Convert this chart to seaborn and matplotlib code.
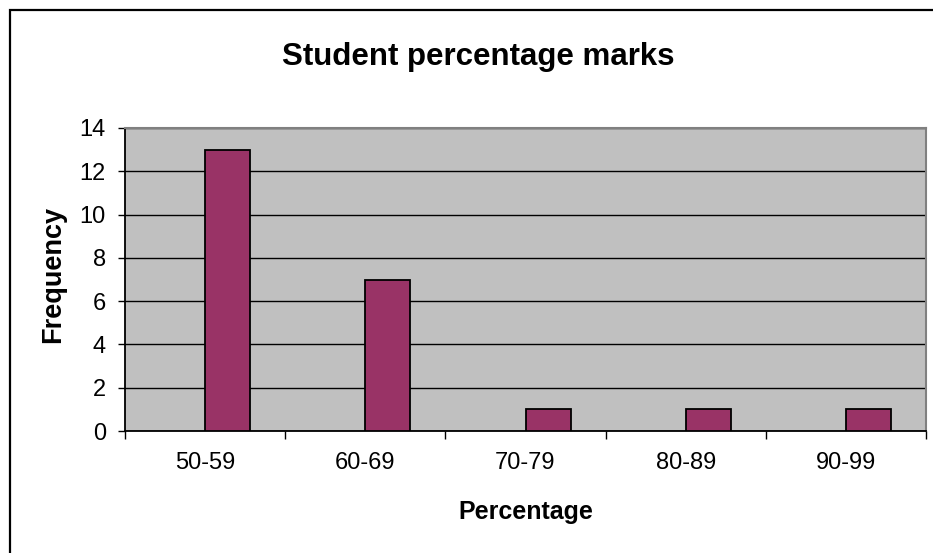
import matplotlib
matplotlib.use("Agg")
import matplotlib.pyplot as plt
from matplotlib.patches import Rectangle
from matplotlib.ticker import FixedLocator, MultipleLocator
import pandas as pd
import seaborn as sns

# Frequency of student marks per percentage band
bands = ["50-59", "60-69", "70-79", "80-89", "90-99"]
frequency = [13, 7, 1, 1, 1]

title = "Student percentage marks"
x_label = "Percentage"
y_label = "Frequency"

sns.set_theme(style="white")
plt.rcParams["font.family"] = ["Liberation Sans", "DejaVu Sans"]

df = pd.DataFrame({"band": bands, "count": frequency, "series": "Frequency"})

fig = plt.figure(figsize=(9.33, 5.53), dpi=100)
fig.patch.set_facecolor("white")
ax = fig.add_axes([125 / 933, 1 - 431 / 553, 801 / 933, 303 / 553])
ax.set_facecolor("#C0C0C0")

# An unused slot precedes the series in each category
sns.barplot(
    data=df, x="band", y="count", hue="series",
    hue_order=["spacer", "Frequency"],
    palette={"spacer": "#C0C0C0", "Frequency": "#993366"},
    width=0.5625, dodge=True, gap=0,
    edgecolor="black", linewidth=1.3, saturation=1,
    legend=False, ax=ax, zorder=3,
)

ax.set_ylim(0, 14)
ax.set_xlim(-0.5, len(bands) - 0.5)
ax.yaxis.set_major_locator(MultipleLocator(2))
ax.grid(axis="y", color="black", linewidth=1.0, zorder=1)
ax.grid(axis="x", visible=False)
ax.set_axisbelow(True)

for side in ("left", "bottom"):
    ax.spines[side].set_color("black")
    ax.spines[side].set_linewidth(1.3)
for side in ("top", "right"):
    ax.spines[side].set_color("#808080")
    ax.spines[side].set_linewidth(1.5)

ax.tick_params(axis="y", which="major", left=True, length=5.2, width=1.0,
               color="black", pad=8.5, labelsize=17, labelcolor="black")
ax.tick_params(axis="x", which="major", bottom=True, length=0, pad=15,
               labelsize=17, labelcolor="black")
ax.xaxis.set_minor_locator(FixedLocator([i - 0.5 for i in range(len(bands) + 1)]))
ax.tick_params(axis="x", which="minor", bottom=True, length=5.8, width=1.0,
               color="black")

ax.set_xlabel(x_label, fontsize=18, fontweight="bold", color="black", va="baseline")
ax.xaxis.set_label_coords(0.5, -88 / 303)
ax.set_ylabel(y_label, fontsize=19.5, fontweight="bold", color="black", va="center")
ax.yaxis.set_label_coords(-72 / 801, (431 - 274) / 303)

fig.text(478 / 933, 1 - 65 / 553, title, ha="center", va="baseline",
         fontsize=22.5, fontweight="bold", color="black")

# Chart area frame
fig.patches.append(Rectangle((9.5 / 933, -0.05), 1.1, 1 - 9.5 / 553 + 0.05,
                             transform=fig.transFigure, fill=False,
                             edgecolor="black", linewidth=1.6, clip_on=False))

fig.savefig("out.png", dpi=100)
